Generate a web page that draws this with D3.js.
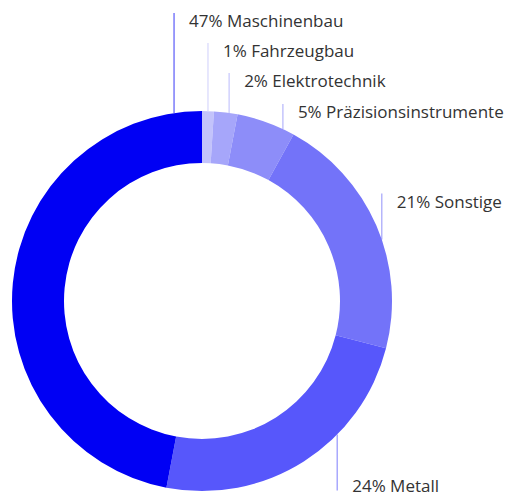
<!DOCTYPE html>
<html>
<head>
<meta charset="utf-8">
<script src="https://cdn.jsdelivr.net/npm/d3@7"></script>
<style>
  body { margin: 0; background: #fff; }
  text { font-family: "Open Sans", sans-serif; }
</style>
</head>
<body>
<div id="chart"></div>
<script>
    // Data
    const categories = ["Fahrzeugbau", "Elektrotechnik", "Präzisionsinstrumente", "Sonstige", "Metall", "Maschinenbau"];
    const shares = [1, 2, 5, 21, 24, 47];
    const colors = ["#c3c3fb", "#a6a6fa", "#8d8df9", "#7373f9", "#5757fb", "#0000f4"];

    // Layout (where inside each slice the leader starts, and how long it is)
    const leaderAt = [0.5, 0.64, 0.8, 0.56, 0.35, 0.95];
    const leaderLen = [68, 40, 25, 46, -56, 100];

    const width = 513;
    const height = 496;
    const cx = 202, cy = 301;
    const outerR = 190, innerR = 138;

    const svg = d3.select("#chart")
        .append("svg")
        .attr("width", width)
        .attr("height", height);

    const pie = d3.pie()
        .sort(null)
        .value(function(d){return d});

    const arc = d3.arc()
        .innerRadius(innerR)
        .outerRadius(outerR);

    const slices = pie(shares);

    const g = svg.append("g")
        .attr("transform", "translate(" + cx + "," + cy + ")");

    g.selectAll("path")
        .data(slices)
        .enter()
        .append("path")
        .attr("d", arc)
        .attr("fill", function(d, i){return colors[i]});

    // leader lines and labels
    slices.forEach(function(d, i)
    {
        const a = d.startAngle + (d.endAngle - d.startAngle) * leaderAt[i];
        const x = outerR * Math.sin(a);
        const y = -outerR * Math.cos(a);
        const lineEnd = y - leaderLen[i];

        g.append("line")
            .attr("x1", x).attr("x2", x)
            .attr("y1", y).attr("y2", lineEnd)
            .attr("stroke", colors[i])
            .attr("stroke-opacity", 0.65)
            .attr("stroke-width", 1.2);

        const baseline = leaderLen[i] > 0 ? lineEnd + 14 : lineEnd + 1;

        g.append("text")
            .attr("x", x + 15)
            .attr("y", baseline)
            .attr("fill", "#333333")
            .attr("font-size", "17px")
            .text(shares[i] + "% " + categories[i]);
    });
</script>
</body>
</html>
